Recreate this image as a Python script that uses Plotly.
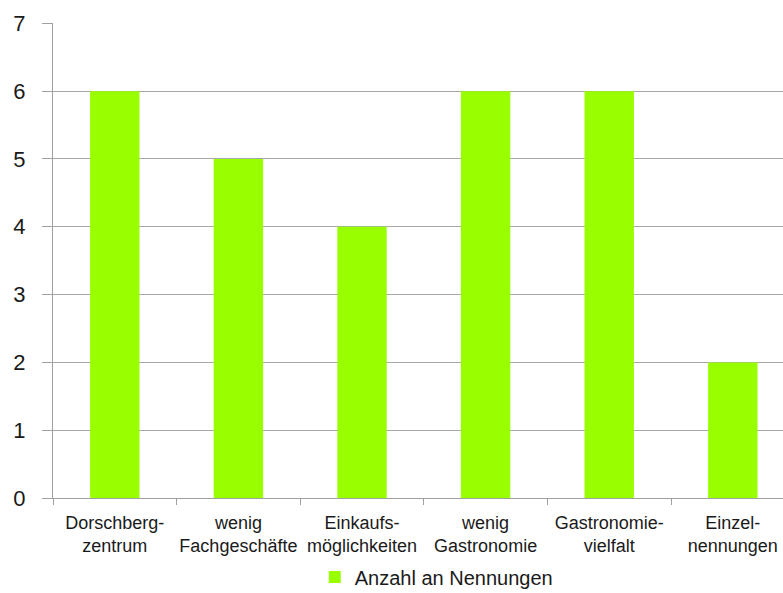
import plotly.graph_objects as go

categories = ["Dorschberg-<br>zentrum", "wenig<br>Fachgeschäfte", "Einkaufs-<br>möglichkeiten",
              "wenig<br>Gastronomie", "Gastronomie-<br>vielfalt", "Einzel-<br>nennungen"]
values = [6, 5, 4, 6, 6, 2]
series_name = "Anzahl an Nennungen"
y_ticks = [0, 1, 2, 3, 4, 5, 6, 7]

fig = go.Figure()
fig.add_trace(go.Bar(
    x=categories, y=values, name=series_name,
    marker=dict(color="#99FF00", line=dict(width=0)),
    width=0.4,
))

fig.update_layout(
    width=783, height=593,
    margin=dict(l=53, r=0, t=23, b=95),
    paper_bgcolor="white", plot_bgcolor="white",
    font=dict(family="Liberation Sans, Arial, sans-serif", color="#1a1a1a"),
    showlegend=True,
    legend=dict(orientation="h", xref="container", yref="container",
                x=0.402, xanchor="left", y=0.027, yanchor="middle",
                font=dict(size=20), itemwidth=30),
)
fig.update_xaxes(
    range=[-0.5, 5.406], showgrid=False, automargin=False,
    showline=True, linecolor="#a0a0a0", linewidth=1,
    ticks="outside", tickson="boundaries", ticklen=6, tickcolor="#a0a0a0",
    ticklabelstandoff=8,
    tickfont=dict(size=18), tickangle=0,
)
fig.update_yaxes(
    range=[0, 7.005], tickvals=y_ticks, showgrid=True, gridcolor="#a8a8a8", gridwidth=1,
    showline=True, linecolor="#a0a0a0", linewidth=1, automargin=False,
    ticks="outside", ticklen=10, tickcolor="#a0a0a0", ticklabelstandoff=12,
    tickfont=dict(size=22), zeroline=False,
)

fig.write_html(
    "out.html",
    config={"displayModeBar": False},
    post_script="document.body.style.margin='0';document.body.style.overflow='hidden';",
)
